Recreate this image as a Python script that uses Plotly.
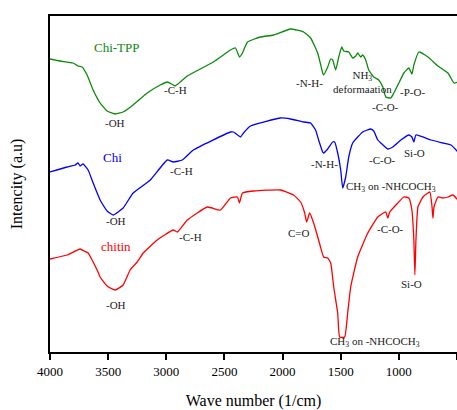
import plotly.graph_objects as go

# Wavenumber (1/cm) and intensity (a.u.)
tpp_wn = [4000, 3914, 3802, 3759, 3724, 3681, 3629, 3569, 3509, 3440, 3371, 3285, 3164, 3052, 2990, 2955, 2925,
          2900, 2880, 2819, 2595, 2448, 2405, 2370, 2345, 2302, 2190, 2078, 1931, 1819, 1759, 1698, 1655,
          1647, 1612, 1586, 1569, 1543, 1517, 1491, 1474, 1431, 1397, 1371, 1354, 1328, 1311, 1285, 1259,
          1216, 1173, 1138, 1112, 1069, 1043, 1000, 957, 914, 888, 871, 828, 750, 664, 578, 526, 492]
tpp_val = [293, 291, 289, 286, 285, 277, 262, 249, 241, 238, 240, 247, 259, 267, 270, 268, 266,
           268, 270, 276, 290, 302, 304, 295, 299, 310, 315, 317, 323, 320, 314, 299, 279,
           277, 285, 293, 292, 282, 295, 305, 301, 300, 294, 296, 299, 295, 297, 292, 282,
           275, 272, 265, 255, 254, 259, 269, 279, 284, 278, 287, 300, 295, 286, 279, 269, 270]

chi_wn = [4000, 3853, 3784, 3759, 3741, 3716, 3672, 3629, 3569, 3509, 3457, 3371, 3285, 3138, 2991, 2940,
          2862, 2767, 2448, 2423, 2362, 2336, 2276, 2017, 1931, 1819, 1759, 1716, 1690, 1655, 1647, 1612,
          1569, 1552, 1526, 1500, 1483, 1457, 1431, 1397, 1354, 1311, 1242, 1216, 1181, 1155, 1095, 1052,
          983, 914, 888, 871, 853, 724, 621, 552, 492]
chi_val = [180, 185, 187, 189, 186, 188, 182, 169, 152, 141, 137, 144, 159, 172, 192, 190,
           192, 202, 220, 220, 215, 219, 226, 234, 233, 230, 229, 222, 212, 200, 199, 203,
           210, 210, 199, 182, 164, 175, 195, 209, 215, 220, 223, 221, 212, 209, 203, 205,
           212, 217, 215, 210, 217, 212, 209, 207, 200]

chitin_wn = [4000, 3853, 3741, 3707, 3672, 3638, 3595, 3569, 3509, 3440, 3371, 3311, 3250, 3198, 3078, 2940,
             2905, 2819, 2647, 2534, 2448, 2388, 2371, 2345, 2250, 2017, 1905, 1845, 1810, 1793, 1767, 1733,
             1690, 1647, 1612, 1586, 1560, 1526, 1509, 1466, 1440, 1414, 1354, 1267, 1181, 1112, 1095, 1078,
             1009, 957, 914, 888, 871, 862, 853, 836, 793, 750, 733, 716, 707, 698, 664, 621, 578, 535, 492]
chitin_val = [93, 97, 103, 101, 99, 92, 82, 75, 66, 62, 67, 82, 90, 99, 112, 122,
              120, 132, 145, 142, 154, 155, 149, 159, 161, 162, 157, 150, 139, 130, 139, 129,
              112, 95, 94, 89, 65, 39, 15, 15, 39, 65, 95, 119, 135, 140, 134, 140,
              149, 155, 154, 142, 112, 77, 112, 145, 155, 159, 160, 147, 134, 145, 155, 154, 155, 157, 152]

tick_vals = [4000, 3500, 3000, 2500, 2000, 1500, 1000, 500]

GREEN, BLUE, RED = "#0a8a0a", "#0000ff", "#ff0000"
FONT = "Liberation Serif"

fig = go.Figure()
for wn, val, col, name in [(tpp_wn, tpp_val, GREEN, "Chi-TPP"),
                           (chi_wn, chi_val, BLUE, "Chi"),
                           (chitin_wn, chitin_val, RED, "chitin")]:
    fig.add_trace(go.Scatter(x=wn, y=val, mode="lines", name=name,
                             line=dict(color=col, width=1.3, shape="spline", smoothing=0.4)))

# (text, wavenumber, value, colour, size, xanchor)
labels = [
    ("Chi-TPP", 3422, 305, GREEN, 13, "center"),
    ("-OH", 3440, 229, "#222", 11, "center"),
    ("-C-H", 2922, 262, "#222", 11, "center"),
    ("-N-H-", 1767, 269, "#222", 11, "center"),
    ("NH<sub>3</sub><br>deformaation", 1586, 270, "#222", 11, "left"),
    ("-C-O-", 1112, 245, "#222", 11, "center"),
    ("-P-O-", 880, 260, "#222", 11, "center"),
    ("Chi", 3466, 195, BLUE, 13, "center"),
    ("-OH", 3431, 131, "#222", 11, "center"),
    ("-C-H", 2871, 181, "#222", 11, "center"),
    ("-N-H-", 1638, 188, "#222", 11, "center"),
    ("CH<sub>3</sub> on -NHCOCH<sub>3</sub>", 1474, 165, "#222", 11, "left"),
    ("-C-O-", 1138, 192, "#222", 11, "center"),
    ("Si-O", 862, 199, "#222", 11, "center"),
    ("chitin", 3431, 106, RED, 13, "center"),
    ("-C-H", 2793, 115, "#222", 11, "center"),
    ("-OH", 3431, 47, "#222", 11, "center"),
    ("C=O", 1862, 119, "#222", 11, "center"),
    ("-C-O-", 1069, 123, "#222", 11, "center"),
    ("Si-O", 888, 68, "#222", 11, "center"),
    ("CH<sub>3</sub> on -NHCOCH<sub>3</sub>", 1207, 10, "#222", 11, "center"),
]
for text, x, y, col, size, anchor in labels:
    fig.add_annotation(x=x, y=y, xref="x", yref="y", text=text, showarrow=False,
                       xanchor=anchor, yanchor="middle",
                       font=dict(family=FONT, size=size, color=col))

fig.update_layout(
    width=457, height=410,
    margin=dict(l=50, r=0, t=16, b=58),
    paper_bgcolor="white", plot_bgcolor="white",
    showlegend=False,
    font=dict(family=FONT, color="black"),
    xaxis=dict(range=[4000, 500], tickvals=tick_vals,
               ticks="outside", ticklen=6, tickwidth=1.5, tickcolor="black",
               showline=True, linecolor="black", linewidth=2, mirror=True,
               showgrid=False, zeroline=False,
               tickfont=dict(family=FONT, size=13, color="black"),
               title=dict(text="Wave number (1/cm)", font=dict(family=FONT, size=16), standoff=19)),
    yaxis=dict(range=[0, 336], showticklabels=False, ticks="",
               showline=True, linecolor="black", linewidth=2, mirror=False,
               showgrid=False, zeroline=False,
               title=dict(text="Intencity (a.u)", font=dict(family=FONT, size=16), standoff=21)),
)

fig.write_html("out.html", config={"displayModeBar": False},
               post_script="document.body.style.margin='0';document.body.style.overflow='hidden';")
